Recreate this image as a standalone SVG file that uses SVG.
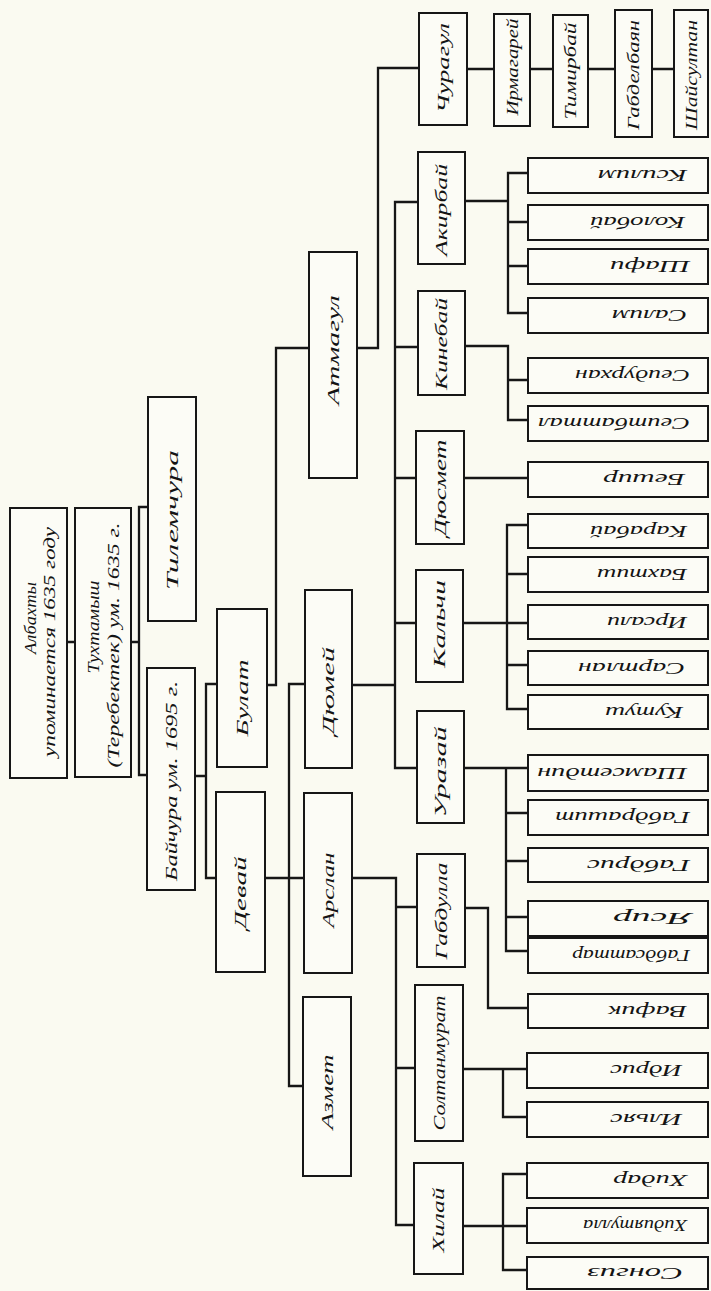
<svg xmlns="http://www.w3.org/2000/svg" width="711" height="1291" viewBox="0 0 711 1291">
<defs>
<style>
.bg{fill:#fafaf1}
.b{fill:#fcfcf6;stroke:#161616;stroke-width:2}
.c{fill:none;stroke:#161616;stroke-width:2.3;stroke-linecap:square}
.t{font-family:"Liberation Serif","DejaVu Serif",serif;font-style:italic;font-size:17px;fill:#141414;text-anchor:middle;dominant-baseline:central}
.u{font-family:"Liberation Serif","DejaVu Serif",serif;font-style:italic;font-size:16px;fill:#141414;text-anchor:start;dominant-baseline:central}
</style>
</defs>
<rect class="bg" x="0" y="0" width="711" height="1291"/>

<g id="connectors">
<path class="c" d="M67 642H75M131 642H139M139 507V775M139 507H148M139 775H147"/>
<path class="c" d="M195 776H206M206 684V878M206 684H217M206 878H216"/>
<path class="c" d="M267 685H276M276 348V685M276 348H309M357 348H378M378 68V348M378 68H419"/>
<path class="c" d="M467 69H494M530 69H553M588 69H615M652 69H674"/>
<path class="c" d="M289 684V1086M289 684H305M289 1086H303M265 878H304"/>
<path class="c" d="M352 685H395M395 202V768M395 202H418M395 347H418M395 478H416M395 623H416M395 768H417"/>
<path class="c" d="M352 878H396M396 878V1225M396 907H417M396 1068H415M396 1225H414"/>
<path class="c" d="M465 201H508M508 173V313M508 173H528M508 222H528M508 266H528M508 313H528"/>
<path class="c" d="M465 346H508M508 346V420M508 380H528M508 420H528"/>
<path class="c" d="M464 478H528"/>
<path class="c" d="M463 623H528M507 525V709M507 525H528M507 574H528M507 665H528M507 709H528"/>
<path class="c" d="M464 768H528M506 768V951M506 813H528M506 861H528M506 917H528M506 951H528"/>
<path class="c" d="M465 908H488M488 908V1008M488 1008H528"/>
<path class="c" d="M463 1069H528M503 1069V1117M503 1117H528"/>
<path class="c" d="M463 1226H528M503 1174V1270M503 1174H528M503 1270H528"/>
</g>

<g id="n-albakhty"><rect class="b" x="10" y="508" width="57" height="270"/>
<text class="t" transform="translate(38.5 618) rotate(-90)" y="-8" textLength="72" lengthAdjust="spacingAndGlyphs">Албахты</text>
<text class="t" transform="translate(38.5 642) rotate(-90)" y="11" textLength="230" lengthAdjust="spacingAndGlyphs">упоминается 1635 году</text></g>
<g id="n-tukhtamysh"><rect class="b" x="75" y="508" width="56" height="269"/>
<text class="t" transform="translate(103 627) rotate(-90)" y="-10" textLength="93" lengthAdjust="spacingAndGlyphs">Тухтамыш</text>
<text class="t" transform="translate(103 645) rotate(-90)" y="10" textLength="245" lengthAdjust="spacingAndGlyphs">(Теребектек) ум. 1635 г.</text></g>
<g id="n-tilemchura"><rect class="b" x="148" y="397" width="48" height="224"/>
<text class="t" transform="translate(172 520) rotate(-90)" textLength="140" lengthAdjust="spacingAndGlyphs">Тилемчура</text></g>
<g id="n-baichura"><rect class="b" x="147" y="668" width="48" height="222"/>
<text class="t" transform="translate(171 781) rotate(-90)" textLength="200" lengthAdjust="spacingAndGlyphs">Байчура ум. 1695 г.</text></g>

<g id="n-bulat"><rect class="b" x="217" y="609" width="50" height="158"/>
<text class="t" transform="translate(242 698) rotate(-90)" textLength="77" lengthAdjust="spacingAndGlyphs">Булат</text></g>
<g id="n-devai"><rect class="b" x="216" y="792" width="49" height="180"/>
<text class="t" transform="translate(240.5 893) rotate(-90)" textLength="73" lengthAdjust="spacingAndGlyphs">Девай</text></g>

<g id="n-atmagul"><rect class="b" x="309" y="252" width="48" height="226"/>
<text class="t" transform="translate(333 350) rotate(-90)" textLength="110" lengthAdjust="spacingAndGlyphs">Атмагул</text></g>
<g id="n-dyumei"><rect class="b" x="305" y="590" width="47" height="178"/>
<text class="t" transform="translate(328.5 691) rotate(-90)" textLength="88" lengthAdjust="spacingAndGlyphs">Дюмей</text></g>
<g id="n-arslan"><rect class="b" x="304" y="793" width="48" height="180"/>
<text class="t" transform="translate(328 890) rotate(-90)" textLength="75" lengthAdjust="spacingAndGlyphs">Арслан</text></g>
<g id="n-azmet"><rect class="b" x="303" y="997" width="48" height="179"/>
<text class="t" transform="translate(327 1092) rotate(-90)" textLength="75" lengthAdjust="spacingAndGlyphs">Азмет</text></g>

<g id="n-churagul"><rect class="b" x="419" y="13" width="48" height="112"/>
<text class="t" transform="translate(443 68) rotate(-90)" textLength="90" lengthAdjust="spacingAndGlyphs">Чурагул</text></g>
<g id="n-irmagarei"><rect class="b" x="494" y="14" width="36" height="112"/>
<text class="t" transform="translate(512 67) rotate(-90)" textLength="97" lengthAdjust="spacingAndGlyphs">Ирмагарей</text></g>
<g id="n-timirbai"><rect class="b" x="553" y="15" width="35" height="112"/>
<text class="t" transform="translate(570.5 71) rotate(-90)" textLength="97" lengthAdjust="spacingAndGlyphs">Тимирбай</text></g>
<g id="n-gabdelbayan"><rect class="b" x="615" y="10" width="37" height="127"/>
<text class="t" transform="translate(633.5 75) rotate(-90)" textLength="110" lengthAdjust="spacingAndGlyphs">Габделбаян</text></g>
<g id="n-shaisultan"><rect class="b" x="674" y="10" width="34" height="127"/>
<text class="t" transform="translate(691 75) rotate(-90)" textLength="110" lengthAdjust="spacingAndGlyphs">Шайсултан</text></g>

<g id="n-akirbai"><rect class="b" x="418" y="152" width="47" height="112"/>
<text class="t" transform="translate(441.5 210) rotate(-90)" textLength="92" lengthAdjust="spacingAndGlyphs">Акирбай</text></g>
<g id="n-kinebai"><rect class="b" x="418" y="291" width="47" height="104"/>
<text class="t" transform="translate(441.5 344) rotate(-90)" textLength="92" lengthAdjust="spacingAndGlyphs">Кинебай</text></g>
<g id="n-dyusmet"><rect class="b" x="416" y="431" width="48" height="113"/>
<text class="t" transform="translate(440 488) rotate(-90)" textLength="97" lengthAdjust="spacingAndGlyphs">Дюсмет</text></g>
<g id="n-kalchi"><rect class="b" x="416" y="570" width="47" height="112"/>
<text class="t" transform="translate(439.5 624) rotate(-90)" textLength="88" lengthAdjust="spacingAndGlyphs">Кальчи</text></g>
<g id="n-urazai"><rect class="b" x="417" y="711" width="47" height="112"/>
<text class="t" transform="translate(440.5 772) rotate(-90)" textLength="91" lengthAdjust="spacingAndGlyphs">Уразай</text></g>
<g id="n-gabdulla"><rect class="b" x="417" y="854" width="48" height="113"/>
<text class="t" transform="translate(441 911) rotate(-90)" textLength="97" lengthAdjust="spacingAndGlyphs">Габдулла</text></g>
<g id="n-soltanmurat"><rect class="b" x="415" y="985" width="48" height="156"/>
<text class="t" transform="translate(439 1063) rotate(-90)" textLength="135" lengthAdjust="spacingAndGlyphs">Солтанмурат</text></g>
<g id="n-khilai"><rect class="b" x="414" y="1163" width="49" height="111"/>
<text class="t" transform="translate(438.5 1220) rotate(-90)" textLength="65" lengthAdjust="spacingAndGlyphs">Хилай</text></g>

<g id="n-ksilim"><rect class="b" x="528" y="158" width="180" height="35"/>
<text class="u" transform="translate(687 175.5) rotate(180)" textLength="89" lengthAdjust="spacingAndGlyphs">Ксилим</text></g>
<g id="n-kolobai"><rect class="b" x="528" y="205" width="180" height="35"/>
<text class="u" transform="translate(685 222.5) rotate(180)" textLength="95" lengthAdjust="spacingAndGlyphs">Колобай</text></g>
<g id="n-shafi"><rect class="b" x="528" y="249" width="180" height="35"/>
<text class="u" transform="translate(690 266.5) rotate(180)" textLength="80" lengthAdjust="spacingAndGlyphs">Шафи</text></g>
<g id="n-salim"><rect class="b" x="528" y="298" width="180" height="35"/>
<text class="u" transform="translate(687 315.5) rotate(180)" textLength="75" lengthAdjust="spacingAndGlyphs">Салим</text></g>
<g id="n-seidurkhan"><rect class="b" x="528" y="358" width="180" height="35"/>
<text class="u" transform="translate(690 375.5) rotate(180)" textLength="115" lengthAdjust="spacingAndGlyphs">Сеидурхан</text></g>
<g id="n-seitbattal"><rect class="b" x="528" y="406" width="180" height="35"/>
<text class="u" transform="translate(690 423.5) rotate(180)" textLength="152" lengthAdjust="spacingAndGlyphs">Сеитбаттал</text></g>
<g id="n-beshir"><rect class="b" x="528" y="462" width="180" height="35"/>
<text class="u" transform="translate(685 479.5) rotate(180)" textLength="82" lengthAdjust="spacingAndGlyphs">Бешир</text></g>
<g id="n-karabai"><rect class="b" x="528" y="514" width="180" height="34"/>
<text class="u" transform="translate(687 531) rotate(180)" textLength="97" lengthAdjust="spacingAndGlyphs">Карабай</text></g>
<g id="n-bakhtish"><rect class="b" x="528" y="557" width="180" height="35"/>
<text class="u" transform="translate(687 574.5) rotate(180)" textLength="90" lengthAdjust="spacingAndGlyphs">Бахтиш</text></g>
<g id="n-irsali"><rect class="b" x="528" y="605" width="180" height="34"/>
<text class="u" transform="translate(687 622) rotate(180)" textLength="80" lengthAdjust="spacingAndGlyphs">Ирсали</text></g>
<g id="n-sartlan"><rect class="b" x="528" y="651" width="180" height="34"/>
<text class="u" transform="translate(685 668) rotate(180)" textLength="107" lengthAdjust="spacingAndGlyphs">Сартлан</text></g>
<g id="n-kutush"><rect class="b" x="528" y="695" width="180" height="34"/>
<text class="u" transform="translate(683 712) rotate(180)" textLength="78" lengthAdjust="spacingAndGlyphs">Кутуш</text></g>
<g id="n-shamsetdin"><rect class="b" x="528" y="755" width="180" height="36"/>
<text class="u" transform="translate(687 773) rotate(180)" textLength="150" lengthAdjust="spacingAndGlyphs">Шамсетдин</text></g>
<g id="n-gabdrashit"><rect class="b" x="528" y="800" width="180" height="35"/>
<text class="u" transform="translate(690 817.5) rotate(180)" textLength="135" lengthAdjust="spacingAndGlyphs">Габдрашит</text></g>
<g id="n-gabdris"><rect class="b" x="528" y="848" width="180" height="34"/>
<text class="u" transform="translate(690 865) rotate(180)" textLength="103" lengthAdjust="spacingAndGlyphs">Габдрис</text></g>
<g id="n-yasir"><rect class="b" x="528" y="901" width="180" height="35"/>
<text class="u" transform="translate(692 918.5) rotate(180)" textLength="79" lengthAdjust="spacingAndGlyphs">Ясир</text></g>
<g id="n-gabdsattar"><rect class="b" x="528" y="938" width="180" height="35"/>
<text class="u" transform="translate(690 955.5) rotate(180)" textLength="118" lengthAdjust="spacingAndGlyphs">Габдсаттар</text></g>
<g id="n-vafik"><rect class="b" x="528" y="994" width="180" height="34"/>
<text class="u" transform="translate(687 1011) rotate(180)" textLength="79" lengthAdjust="spacingAndGlyphs">Вафик</text></g>
<g id="n-idris"><rect class="b" x="527" y="1053" width="181" height="35"/>
<text class="u" transform="translate(682 1070.5) rotate(180)" textLength="72" lengthAdjust="spacingAndGlyphs">Идрис</text></g>
<g id="n-ilyas"><rect class="b" x="527" y="1102" width="181" height="35"/>
<text class="u" transform="translate(682 1119.5) rotate(180)" textLength="72" lengthAdjust="spacingAndGlyphs">Ильяс</text></g>
<g id="n-khidar"><rect class="b" x="527" y="1163" width="181" height="35"/>
<text class="u" transform="translate(687 1180.5) rotate(180)" textLength="74" lengthAdjust="spacingAndGlyphs">Хидар</text></g>
<g id="n-khidiyatulla"><rect class="b" x="527" y="1208" width="181" height="35"/>
<text class="u" transform="translate(687 1225.5) rotate(180)" textLength="104" lengthAdjust="spacingAndGlyphs">Хидиятулла</text></g>
<g id="n-songiz"><rect class="b" x="527" y="1257" width="181" height="32"/>
<text class="u" transform="translate(683 1273) rotate(180)" textLength="96" lengthAdjust="spacingAndGlyphs">Сонгиз</text></g>
</svg>
